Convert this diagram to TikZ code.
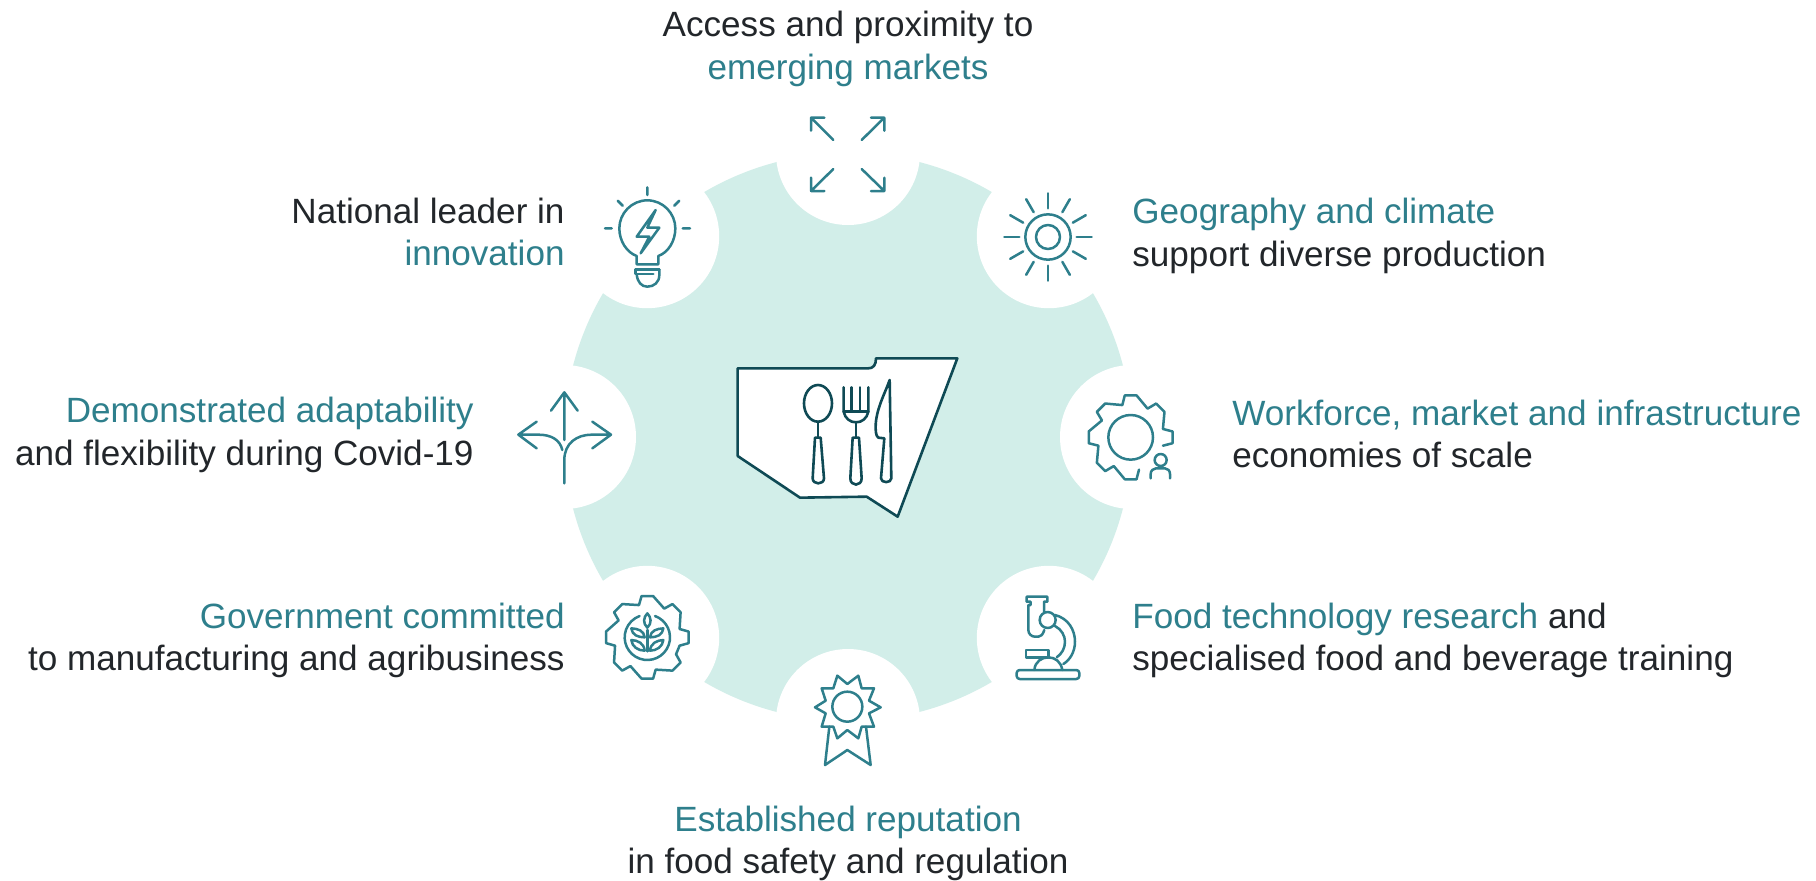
\documentclass[tikz,border=0pt]{standalone}
\usepackage{fontspec}
\setmainfont{Liberation Sans}
\definecolor{teal1}{HTML}{2E7F8C}
\definecolor{ink}{HTML}{22262A}
\definecolor{discc}{HTML}{D2EEE9}
\definecolor{mapc}{HTML}{0F4A55}
\tikzset{
 label/.style={font=\fontsize{17.55}{21.25}\selectfont,text=ink,inner sep=0pt},
 lblR/.style={label,align=right,anchor=east},
 lblL/.style={label,align=left,anchor=west},
 lblC/.style={label,align=center,anchor=center},
 ico/.style={draw=teal1,line width=1.25pt,line cap=round,line join=round},
 cut/.style={draw=mapc,line width=1.3pt,line cap=round,line join=round},
 zoomed/.style={x=0.5pt/3,y=-0.5pt/3},
}
\newcommand{\tl}[1]{\textcolor{teal1}{#1}}
\begin{document}
\begin{tikzpicture}[x=0.5pt,y=-0.5pt]
\useasboundingbox (0,0) rectangle (1816,880);
\fill[white] (0,0) rectangle (1816,880);
\coordinate (c) at (848,437);
\fill[discc] (c) circle[radius=284];
\foreach \i in {0,45,...,315}{\fill[white] (c) ++(\i:284) circle[radius=72];}
% map
\begin{scope}[shift={(700,330)},zoomed]
\draw[cut,fill=white] (113,115) -- (505,115) .. controls (520,115) and (528,105) .. (528,85) -- (772,85) -- (593,560) -- (500,500) -- (300,503) -- (113,378) -- cycle;
\draw[cut] (354,220) ellipse[x radius=42,y radius=55];
\draw[cut] (354,275) -- (354,322);
\draw[cut] (345,323) -- (362,323) -- (372,445) .. controls (372,465) and (338,465) .. (338,445) -- cycle;
\draw[cut] (431,172) -- (431,245) .. controls (435,265) and (450,277) .. (468,277) .. controls (486,277) and (501,265) .. (505,245) -- (505,172);
\draw[cut] (455,172) -- (455,245) (480,172) -- (480,245) (431,245) -- (505,245) (468,277) -- (468,322);
\draw[cut] (458,323) -- (477,323) -- (485,445) .. controls (485,470) and (451,470) .. (451,445) -- cycle;
\draw[cut] (569,150) -- (574,445) .. controls (574,460) and (543,460) .. (543,445) -- (553,325) -- (535,323) .. controls (527,318) and (527,300) .. (527,290) .. controls (527,240) and (555,190) .. (569,150) -- cycle;
\end{scope}
% top arrows
\begin{scope}[shift={(780,90)},zoomed]
\draw[ico] (160,150) -- (93,83) (93,122) -- (93,83) -- (133,83);
\draw[ico] (245,150) -- (313,83) (273,83) -- (313,83) -- (313,122);
\draw[ico] (160,237) -- (93,303) (93,263) -- (93,303) -- (133,303);
\draw[ico] (245,237) -- (313,303) (313,263) -- (313,303) -- (273,303);
\end{scope}
% sun
\begin{scope}[shift={(980,170)},zoomed]
\begin{scope}[shift={(204,201)}]
\draw[ico] (0,0) circle[radius=68];
\draw[ico] (0,0) circle[radius=36];
\foreach \a in {0,30,...,330}{\draw[ico] (\a:86) -- (\a:131);}
\end{scope}
\end{scope}
% gear with person
\begin{scope}[shift={(1070,380)},zoomed]
\begin{scope}[shift={(182,172)}]
\draw[ico] (14.5:100) -- (8:127) \foreach \a in {0,-45,...,-270}{ -- (\a+8:127) -- (\a-8:127) -- (\a-14.5:100)};
\draw[ico] (0,0) circle[radius=67];
\end{scope}
\draw[ico] (272,240) circle[radius=18];
\draw[ico] (242,295) -- (242,282) .. controls (242,272) and (250,265) .. (258,265) -- (285,265) .. controls (293,265) and (300,272) .. (300,282) -- (300,295);
\end{scope}
% microscope
\begin{scope}[shift={(1000,580)},zoomed]
\draw[ico,rounded corners=1.5pt] (50,270) rectangle (238,297);
\draw[ico] (78,210) rectangle (145,232);
\draw[ico] (103,270) .. controls (105,245) and (125,232) .. (145,232) .. controls (165,232) and (183,245) .. (187,270);
\draw[ico] (132,95) -- (132,65) -- (142,65) -- (142,50) -- (80,50) -- (80,65) -- (92,65) -- (92,75) -- (85,75) -- (85,150) .. controls (85,162) and (95,170) .. (105,170) -- (115,170) .. controls (122,170) and (128,165) .. (133,150);
\draw[ico] (143,120) circle[radius=24];
\draw[ico] (165,105) .. controls (205,115) and (225,150) .. (225,185) .. controls (225,215) and (210,240) .. (190,252);
\draw[ico] (165,138) .. controls (185,148) and (195,168) .. (195,185) .. controls (195,205) and (185,222) .. (170,232);
\end{scope}
% medal
\begin{scope}[shift={(790,660)},zoomed]
\draw[ico] (142,47) -- (172,72) -- (205,47) -- (215,85) -- (252,85) -- (237,122) -- (272,142) -- (237,160) -- (252,200) -- (215,200) -- (205,235) -- (172,210) -- (142,235) -- (130,200) -- (95,200) -- (107,160) -- (75,142) -- (107,122) -- (95,85) -- (130,85) -- cycle;
\draw[ico] (172,140) circle[radius=45];
\draw[ico] (118,200) -- (105,315) -- (172,270) -- (242,315) -- (228,200);
\end{scope}
% wheat gear
\begin{scope}[shift={(590,580)},zoomed]
\begin{scope}[shift={(172,172)}]
\draw[ico] (14.5:100) -- (8:125) \foreach \a in {0,-45,...,-315}{ -- (\a+8:125) -- (\a-8:125) -- (\a-14.5:100)} -- cycle;
\draw[ico] (-70:68) arc[start angle=-70,end angle=250,radius=68];
\end{scope}
\draw[ico] (172,100) .. controls (160,112) and (158,130) .. (172,143) .. controls (186,130) and (184,112) .. (172,100) -- cycle;
\draw[ico] (172,150) -- (172,214);
\foreach \s/\o in {1/0,-1/344}{
\draw[ico] (\o+\s*180,172) .. controls (\o+\s*182,152) and (\o+\s*200,146) .. (\o+\s*220,145) .. controls (\o+\s*218,165) and (\o+\s*200,172) .. (\o+\s*180,172) -- cycle;
\draw[ico] (\o+\s*180,212) .. controls (\o+\s*182,190) and (\o+\s*200,181) .. (\o+\s*220,180) .. controls (\o+\s*218,200) and (\o+\s*200,212) .. (\o+\s*180,212) -- cycle;
}
\end{scope}
% branching arrows
\begin{scope}[shift={(505,380)},zoomed]
\draw[ico] (178,180) -- (178,37) (138,92) -- (178,37) -- (218,92);
\draw[ico] (95,125) -- (40,164) -- (95,205) (40,164) -- (100,164) .. controls (140,164) and (165,180) .. (172,210);
\draw[ico] (262,125) -- (318,164) -- (262,205) (318,164) -- (260,164) .. controls (215,164) and (178,190) .. (178,240) -- (178,310);
\end{scope}
% bulb
\begin{scope}[shift={(590,175)},zoomed]
\draw[ico] (172,37) -- (172,60) (45,160) -- (65,160) (278,160) -- (300,160) (83,77) -- (98,92) (268,77) -- (253,92);
\draw[ico] (140,268) -- (140,243) .. controls (110,232) and (88,198) .. (88,160) .. controls (88,115) and (125,76) .. (172,76) .. controls (219,76) and (256,115) .. (256,160) .. controls (256,198) and (235,232) .. (205,243) -- (205,268) -- cycle;
\draw[ico] (197,105) -- (140,185) -- (178,185) -- (152,235) -- (208,158) -- (172,158) -- cycle;
\draw[ico] (208,283) -- (137,283) -- (137,297) -- (190,297);
\draw[ico] (140,297) .. controls (142,322) and (155,335) .. (172,335) .. controls (192,335) and (208,322) .. (208,300) -- (208,283);
\end{scope}
% labels
\node[lblC] (t1) at (848,49) {Access and proximity to\\\tl{emerging markets}};
\node[lblL] (t2) at (1132,236) {\tl{Geography and climate}\\support diverse production};
\node[lblL] (t3) at (1232,434) {\tl{Workforce, market and infrastructure}\\economies of scale};
\node[lblL] (t4) at (1132,640.5) {\tl{Food technology research} and\\specialised food and beverage training};
\node[lblC] (t5) at (848,843.5) {\tl{Established reputation}\\in food safety and regulation};
\node[lblR] (t6) at (565,640.5) {\tl{Government committed}\\to manufacturing and agribusiness};
\node[lblR] (t7) at (474,435) {\tl{Demonstrated adaptability}\\and flexibility during Covid-19};
\node[lblR] (t8) at (565,232) {National leader in\\\tl{innovation}};
\end{tikzpicture}
\end{document}
